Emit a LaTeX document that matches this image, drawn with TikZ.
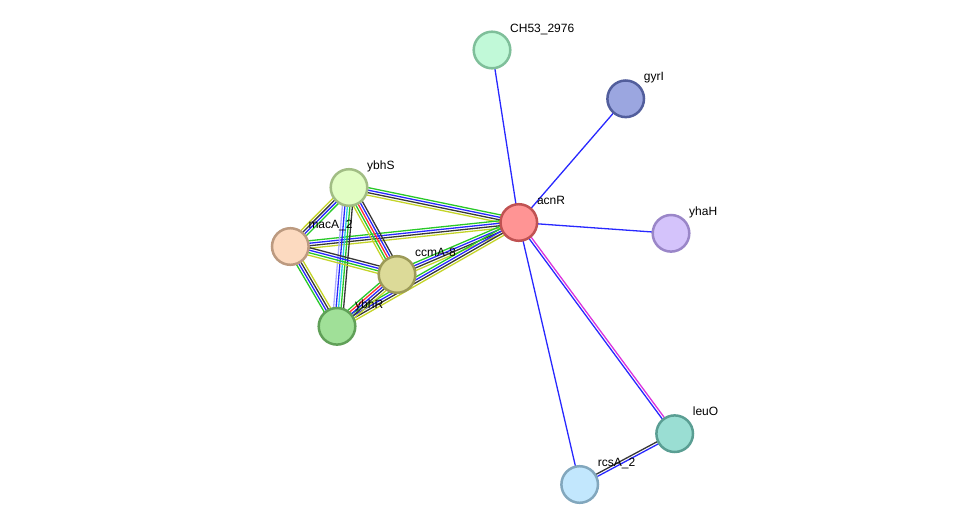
\documentclass[tikz,border=0pt]{standalone}
\usepackage{fontspec}
\setmainfont{Liberation Sans}
\usetikzlibrary{calc,backgrounds}
\definecolor{grn}{RGB}{40,200,40}
\definecolor{txm}{RGB}{196,212,40}
\definecolor{blk}{RGB}{55,55,55}
\definecolor{blu}{RGB}{40,40,255}
\definecolor{rdd}{RGB}{255,50,50}
\definecolor{mag}{RGB}{220,50,220}
\definecolor{cyn}{RGB}{40,200,230}
\definecolor{lav}{RGB}{170,170,255}
\newcommand\sedge[3]{%
  \foreach \cc/\oo in {#3}{\draw[edge,\cc] ($(#1)!\oo!90:(#2)$) -- ($(#2)!\oo!-90:(#1)$);}}
\newcommand\prot[6]{% name, x, y, fill, border, label
  \definecolor{f#1}{HTML}{#4}\definecolor{b#1}{HTML}{#5}%
  \node[prot,fill=f#1,draw=b#1] (#1) at (#2,#3) {};
  \node[lab] (l#1) at ($(#2,#3)+(18,-18)$) {#6};}
\begin{document}
\begin{tikzpicture}[x=1pt,y=-1pt,
  prot/.style={circle,minimum size=36.6pt,inner sep=0pt,line width=2.5pt},
  lab/.style={anchor=base west,inner sep=0pt,font=\fontsize{12}{14}\selectfont,text=black},
  edge/.style={line width=1.3pt}]
\useasboundingbox (0,0) rectangle (975,530);
\prot{ch}{492}{50}{C1F9D8}{7FBF9A}{CH53\_2976}
\prot{gy}{625.7}{98.8}{9BA6E0}{525E9C}{gyrI}
\prot{ac}{518.8}{222.5}{FF9494}{C05252}{acnR}
\prot{yh}{671}{233.3}{D4C3FB}{9A86C8}{yhaH}
\prot{ys}{349}{187.5}{E1FDC4}{A1BD84}{ybhS}
\prot{ma}{290.3}{246.5}{FCDAC0}{BC9A80}{macA\_2}
\prot{cc}{397}{274.5}{DCDA98}{9C9A58}{ccmA-8}
\prot{yr}{337}{326.3}{A0E098}{60A058}{ybhR}
\prot{le}{674.7}{433.7}{9ADED3}{5A9E93}{leuO}
\prot{rc}{579.7}{484.5}{C2E7FD}{82A7BD}{rcsA\_2}
\begin{pgfonlayer}{background}
\sedge{ys}{ac}{grn/3.75pt,blu/1.25pt,blk/-1.25pt,txm/-3.75pt}
\sedge{ma}{ac}{grn/3.75pt,blu/1.25pt,blk/-1.25pt,txm/-3.75pt}
\sedge{cc}{ac}{grn/3.75pt,blu/1.25pt,blk/-1.25pt,txm/-3.75pt}
\sedge{yr}{ac}{grn/3.75pt,blu/1.25pt,blk/-1.25pt,txm/-3.75pt}
\sedge{ys}{ma}{txm/-3.75pt,blk/-1.25pt,blu/1.25pt,grn/3.75pt}
\sedge{ys}{cc}{txm/-5pt,grn/-2.5pt,rdd/0pt,blu/2.5pt,blk/5pt}
\sedge{ys}{yr}{lav/-5pt,blu/-2.5pt,cyn/0pt,grn/2.5pt,blk/5pt}
\sedge{ma}{cc}{txm/-3.75pt,grn/-1.25pt,blu/1.25pt,blk/3.75pt}
\sedge{ma}{yr}{grn/-3.75pt,blu/-1.25pt,blk/1.25pt,txm/3.75pt}
\sedge{cc}{yr}{grn/-5pt,rdd/-2.5pt,blu/0pt,blk/2.5pt,txm/5pt}
\sedge{ac}{ch}{blu/0pt}
\sedge{ac}{gy}{blu/0pt}
\sedge{ac}{yh}{blu/0pt}
\sedge{ac}{rc}{blu/0pt}
\sedge{ac}{le}{blu/-1.25pt,mag/1.25pt}
\sedge{le}{rc}{blk/-1.25pt,blu/1.25pt}
\end{pgfonlayer}
\end{tikzpicture}
\end{document}
